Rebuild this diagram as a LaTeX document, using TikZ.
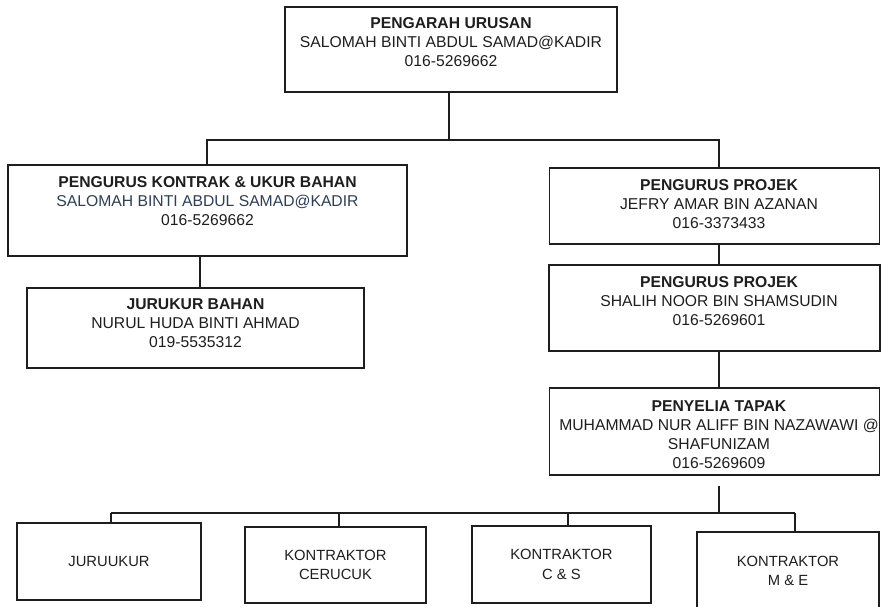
\documentclass[tikz,border=0pt]{standalone}
\usepackage{fontspec}
\setmainfont{Liberation Sans}
\usetikzlibrary{calc, positioning}
\definecolor{inkgray}{RGB}{30,30,30}
\definecolor{slateink}{RGB}{45,62,88}

\begin{document}
\begin{tikzpicture}[x=0.03cm, y=-0.03cm,
  unitbox/.style={draw=inkgray, line width=1.1pt, inner sep=0pt},
  unittext/.style={anchor=north, align=center, inner sep=0pt, text=inkgray,
    font=\fontsize{13.4}{16.2}\selectfont},
  lowbox/.style={unitbox, align=center, text=inkgray,
    font=\fontsize{12.6}{16.5}\selectfont},
  link/.style={draw=inkgray, line width=1.1pt}]
\def\busy{140}
\def\spinex{719}
\def\lowbusy{513}

\useasboundingbox (0,0) rectangle (881,606);

% Top and second level
\node[unitbox, minimum width=9.96cm, minimum height=2.55cm] (pengarah) at (451,49.5) {};
\node[unitbox, minimum width=11.97cm, minimum height=2.73cm] (kontrak) at (207.5,210.5) {};
\node[unitbox, minimum width=10.11cm, minimum height=2.40cm] (jurukur) at (195.5,328) {};

% Right column
\node[unitbox, minimum width=9.90cm, minimum height=2.28cm] (projekA) at (714.5,206) {};
\node[unitbox, minimum width=9.93cm, minimum height=2.58cm] (projekB) at (714.5,308) {};
\node[unitbox, minimum width=9.90cm, minimum height=2.61cm] (penyelia) at (714.5,431.5) {};

% Texts
\node[unittext] (pengarah-txt) at ($(pengarah.north)+(0,11)$)
  {\textbf{PENGARAH URUSAN}\\SALOMAH BINTI ABDUL SAMAD@KADIR\\016-5269662};
\node[unittext] (kontrak-txt) at ($(kontrak.north)+(0,12)$)
  {\textbf{PENGURUS KONTRAK \& UKUR BAHAN}\\
   \textcolor{slateink}{SALOMAH BINTI ABDUL SAMAD@KADIR}\\016-5269662};
\node[unittext] (jurukur-txt) at ($(jurukur.north)+(0,11)$)
  {\textbf{JURUKUR BAHAN}\\NURUL HUDA BINTI AHMAD\\019-5535312};
\node[unittext] (projekA-txt) at ($(projekA.north)+(4.5,12)$)
  {\textbf{PENGURUS PROJEK}\\JEFRY AMAR BIN AZANAN\\016-3373433};
\node[unittext] (projekB-txt) at ($(projekB.north)+(4.5,12)$)
  {\textbf{PENGURUS PROJEK}\\SHALIH NOOR BIN SHAMSUDIN\\016-5269601};
\node[unittext] (penyelia-txt) at ($(penyelia.north)+(4.5,13)$)
  {\textbf{PENYELIA TAPAK}\\MUHAMMAD NUR ALIFF BIN NAZAWAWI @\\SHAFUNIZAM\\016-5269609};

% Bottom row
\node[lowbox, minimum width=5.52cm, minimum height=2.31cm] (juruukur) at (109,561.5) {JURUUKUR};
\node[lowbox, minimum width=5.43cm, minimum height=2.28cm] (cerucuk) at (335.5,565) {KONTRAKTOR\\CERUCUK};
\node[lowbox, minimum width=5.37cm, minimum height=2.31cm] (cns) at (561.5,564.5) {KONTRAKTOR\\C \& S};
\node[lowbox, minimum width=5.46cm, minimum height=2.34cm] (mne) at (788,571) {KONTRAKTOR\\M \& E};

% Upper connectors
\coordinate (busL) at (207,\busy);
\coordinate (spine) at (\spinex,\busy);
\coordinate (kspine) at (200,0);
\draw[link] (pengarah.south -| {(449,0)}) -- (449,\busy);
\draw[link] (busL |- kontrak.north) -- (busL) -- (spine) -- (spine |- projekA.north);
\draw[link] (kspine |- kontrak.south) -- (kspine |- jurukur.north);
\draw[link] (spine |- projekA.south) -- (spine |- projekB.north);
\draw[link] (spine |- projekB.south) -- (spine |- penyelia.north);

% Lower bus
\foreach \n/\x in {juruukur/111, cerucuk/339, cns/568, mne/795}{
  \coordinate (drop-\n) at (\x,\lowbusy);
  \draw[link] (drop-\n) -- (drop-\n |- \n.north);
}
\draw[link] (drop-juruukur) -- (drop-mne);
\draw[link] ($(spine |- penyelia.south)+(0,10)$) -- (spine |- drop-mne);
\end{tikzpicture}
\end{document}
